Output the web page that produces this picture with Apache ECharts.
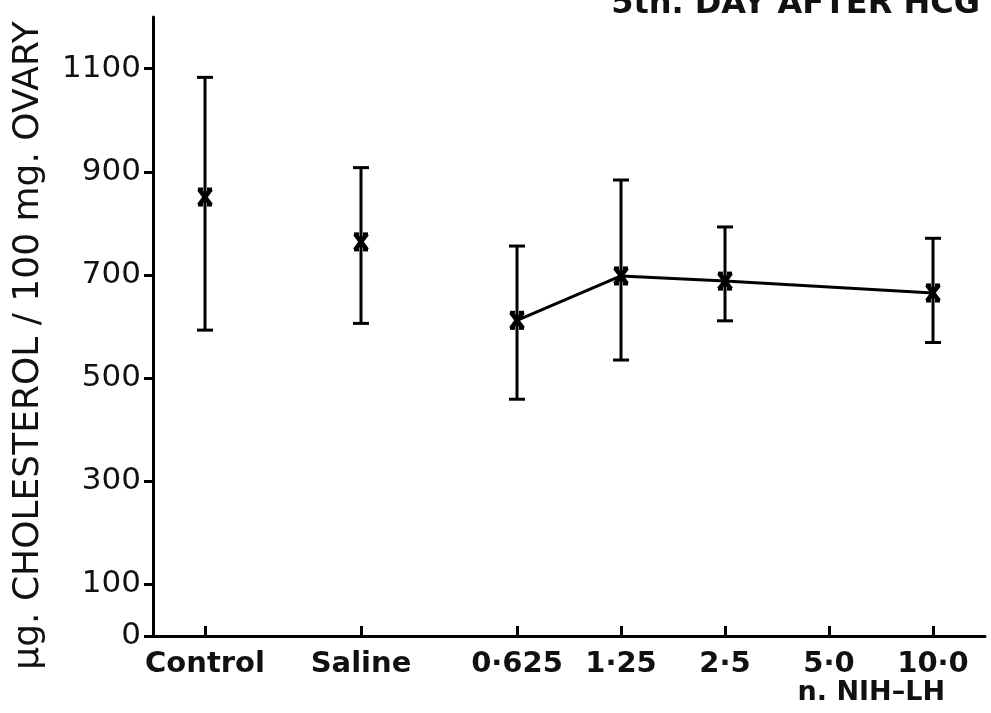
<!DOCTYPE html>
<html>
<head>
<meta charset="utf-8">
<script src="https://cdn.jsdelivr.net/npm/echarts@6/dist/echarts.min.js"></script>
<style>
  html, body { margin: 0; padding: 0; background: #fff; }
  #chart { width: 991px; height: 713px; }
</style>
</head>
<body>
<div id="chart"></div>
<script>
const categories = ["Control", "Saline", "0·625", "1·25", "2·5", "5·0", "10·0"];
// position of each group along the x axis (doses are doubling steps)
const xPos = [0, 1.5, 3, 4, 5, 6, 7];
const means = [851, 764, 612, 698, 688, null, 665];
const upper = [1083, 908, 756, 884, 793, null, 771];
const lower = [593, 606, 459, 535, 611, null, 569];
const yTicks = [0, 100, 300, 500, 700, 900, 1100];
// dose groups joined by the line
const doseFrom = 2;

const FONT = "DejaVu Sans";

const errData = xPos
  .map((x, i) => [x, lower[i], upper[i], means[i]])
  .filter((d) => d[3] != null);

const lineData = xPos
  .map((x, i) => [x, means[i]])
  .filter((d, i) => i >= doseFrom && d[1] != null);

function renderErr(params, api) {
  const x = api.value(0);
  const lo = api.coord([x, api.value(1)]);
  const hi = api.coord([x, api.value(2)]);
  const m = api.coord([x, api.value(3)]);
  const cap = 8, mw = 6, mh = 8;
  const st = { stroke: "#000", lineWidth: 3 };
  const mk = { stroke: "#000", lineWidth: 4.5 };
  return {
    type: "group",
    children: [
      { type: "line", shape: { x1: hi[0], y1: hi[1], x2: lo[0], y2: lo[1] }, style: st },
      { type: "line", shape: { x1: hi[0] - cap, y1: hi[1], x2: hi[0] + cap, y2: hi[1] }, style: st },
      { type: "line", shape: { x1: lo[0] - cap, y1: lo[1], x2: lo[0] + cap, y2: lo[1] }, style: st },
      { type: "line", shape: { x1: m[0] - mw, y1: m[1] - mh, x2: m[0] + mw, y2: m[1] + mh }, style: mk },
      { type: "line", shape: { x1: m[0] + mw, y1: m[1] - mh, x2: m[0] - mw, y2: m[1] + mh }, style: mk },
      { type: "line", shape: { x1: m[0] - mw - 1, y1: m[1] - mh, x2: m[0] - mw + 4, y2: m[1] - mh }, style: st },
      { type: "line", shape: { x1: m[0] + mw - 4, y1: m[1] - mh, x2: m[0] + mw + 1, y2: m[1] - mh }, style: st },
      { type: "line", shape: { x1: m[0] - mw - 1, y1: m[1] + mh, x2: m[0] - mw + 4, y2: m[1] + mh }, style: st },
      { type: "line", shape: { x1: m[0] + mw - 4, y1: m[1] + mh, x2: m[0] + mw + 1, y2: m[1] + mh }, style: st }
    ]
  };
}

const chart = echarts.init(document.getElementById("chart"));
chart.setOption({
  backgroundColor: "#fff",
  animation: false,
  title: {
    text: "5th. DAY AFTER HCG",
    right: 6,
    top: -16,
    textStyle: { fontFamily: FONT, fontSize: 32, fontWeight: "bold", color: "#111" }
  },
  grid: { left: 153, right: 6, top: 17, bottom: 77 },
  xAxis: {
    type: "value",
    min: -0.5,
    max: 7.5,
    splitLine: { show: false },
    axisLine: { lineStyle: { color: "#000", width: 3 } },
    axisTick: {
      inside: true,
      length: 10,
      customValues: xPos,
      lineStyle: { color: "#000", width: 3 }
    },
    axisLabel: {
      customValues: xPos,
      margin: 14,
      formatter: (v) => categories[xPos.indexOf(v)],
      fontFamily: FONT,
      fontSize: 29,
      fontWeight: "bold",
      color: "#111"
    }
  },
  yAxis: {
    type: "value",
    min: 0,
    max: 1200,
    interval: 100,
    name: "µg. CHOLESTEROL / 100 mg. OVARY",
    nameLocation: "middle",
    nameGap: 106,
    nameTextStyle: { fontFamily: FONT, fontSize: 36, color: "#111", padding: [0, 38, 0, 0] },
    splitLine: { show: false },
    axisLine: { show: true, onZero: false, lineStyle: { color: "#000", width: 3 } },
    axisTick: {
      show: true,
      length: 9,
      customValues: yTicks,
      lineStyle: { color: "#000", width: 3 }
    },
    axisLabel: {
      customValues: yTicks,
      margin: 12,
      formatter: (v) => String(v),
      fontFamily: FONT,
      fontSize: 31,
      color: "#111"
    }
  },
  graphic: [{
    type: "text",
    right: 46,
    top: 679,
    style: { text: "n. NIH–LH", fontFamily: FONT, fontSize: 27, fontWeight: "bold", fill: "#111" }
  }],
  series: [
    {
      type: "line",
      data: lineData,
      symbol: "none",
      lineStyle: { color: "#000", width: 3 },
      z: 2
    },
    {
      type: "custom",
      data: errData,
      renderItem: renderErr,
      z: 3
    }
  ]
});
</script>
</body>
</html>
